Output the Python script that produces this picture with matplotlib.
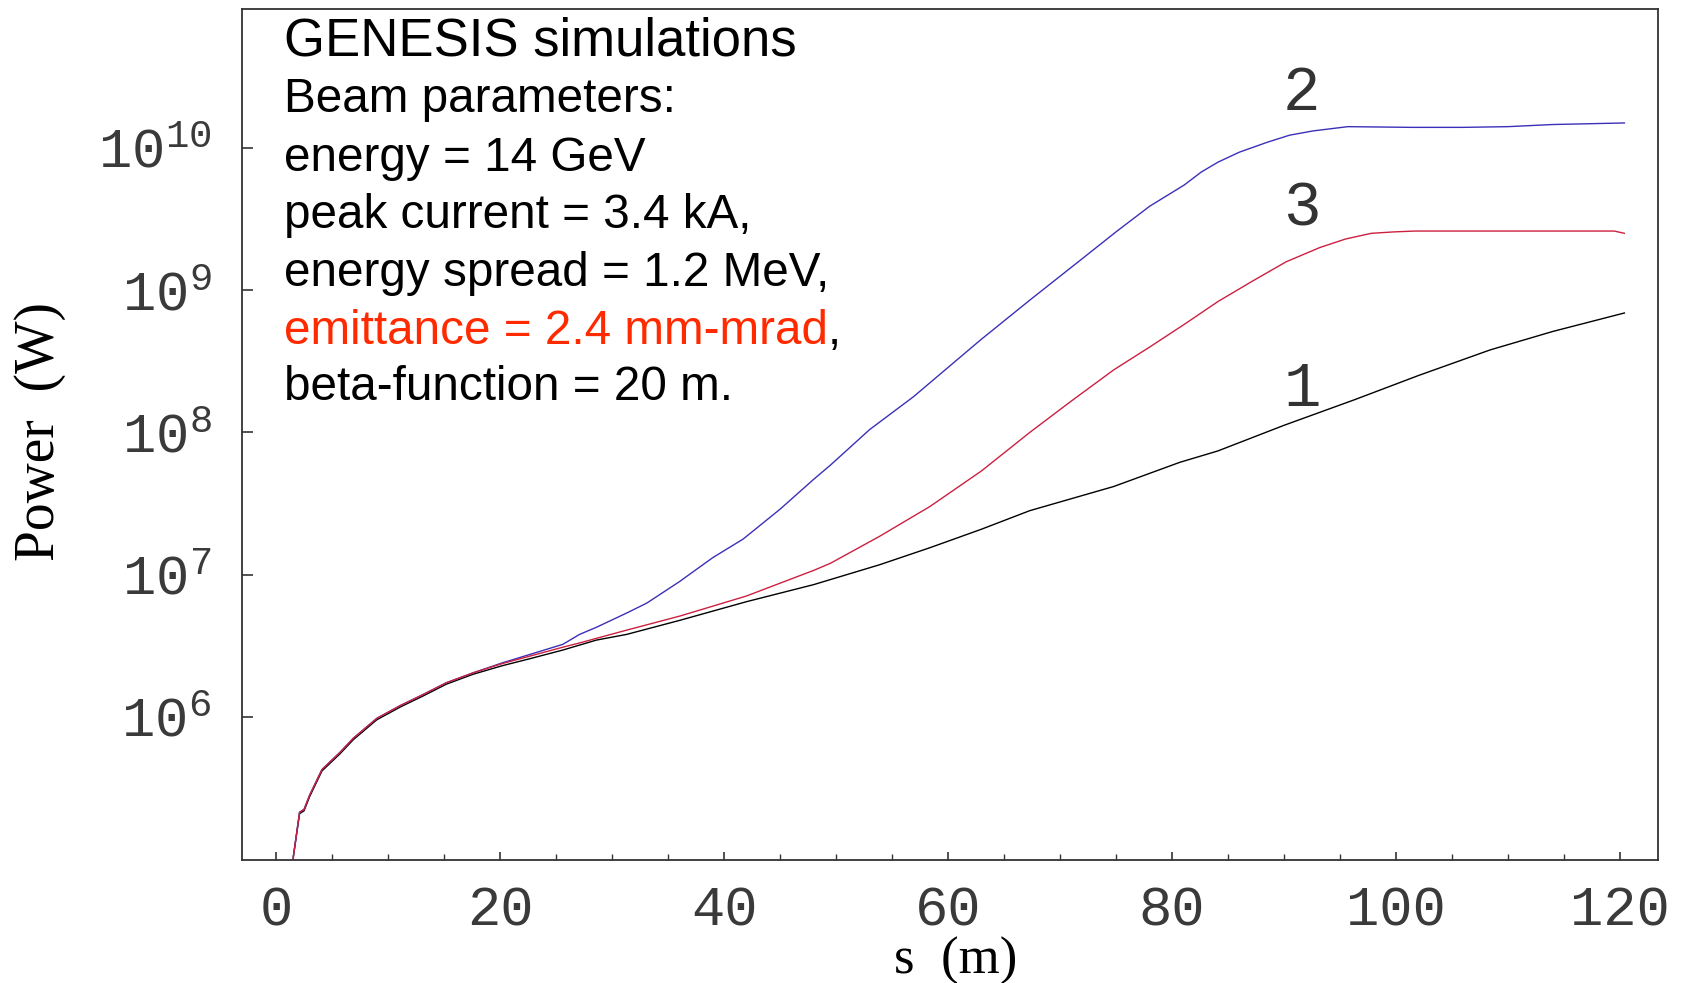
import numpy as np
import matplotlib.pyplot as plt
from matplotlib.ticker import FixedLocator, MultipleLocator, NullLocator

# ---- data: s in metres, power given as log10(P / W) ----
s_1 = [1.4, 1.55, 2.1, 2.5, 3.0, 4.1, 5.7, 6.9, 9.0, 11.1, 13.2, 15.2, 17.6,
       20.2, 22.7, 25.6, 28.6, 31.3, 36.1, 42.0, 48.0, 53.9, 58.4, 63.0,
       67.3, 74.8, 80.7, 84.1, 90.0, 96.3, 102.0, 108.4, 114.0, 120.4]
logp_1 = [4.80, 5.02, 5.32, 5.34, 5.44, 5.62, 5.74, 5.84, 5.98, 6.07, 6.15,
          6.23, 6.30, 6.36, 6.41, 6.47, 6.54, 6.58, 6.68, 6.81, 6.93, 7.07,
          7.19, 7.32, 7.45, 7.62, 7.79, 7.87, 8.05, 8.23, 8.40, 8.58, 8.71,
          8.84]

s_2 = [1.4, 1.55, 2.1, 2.5, 3.0, 4.1, 5.7, 6.9, 9.0, 11.1, 13.2, 15.2, 17.6,
       20.2, 22.7, 25.6, 27.1, 28.6, 31.3, 33.1, 36.0, 39.0, 41.7, 45.0,
       48.0, 49.5, 53.0, 56.9, 60.8, 62.9, 67.3, 71.8, 75.0, 78.0, 81.1,
       82.6, 84.1, 86.0, 88.5, 90.5, 92.6, 95.7, 101.4, 106.0, 110.0, 114.0,
       120.4]
logp_2 = [4.80, 5.02, 5.33, 5.35, 5.45, 5.63, 5.75, 5.85, 5.99, 6.08, 6.16,
          6.24, 6.31, 6.38, 6.44, 6.51, 6.58, 6.63, 6.73, 6.80, 6.95, 7.12,
          7.25, 7.46, 7.67, 7.77, 8.02, 8.25, 8.51, 8.65, 8.93, 9.21, 9.41,
          9.59, 9.74, 9.83, 9.90, 9.97, 10.04, 10.09, 10.12, 10.15, 10.145,
          10.145, 10.15, 10.165, 10.176]

s_3 = [1.4, 1.55, 2.1, 2.5, 3.0, 4.1, 5.7, 6.9, 9.0, 11.1, 13.2, 15.2, 17.6,
       20.2, 25.6, 27.1, 31.3, 36.1, 42.0, 48.0, 49.5, 53.9, 58.4, 63.0,
       67.3, 71.0, 74.8, 78.0, 81.1, 84.1, 87.1, 90.2, 93.2, 95.5, 97.8,
       99.8, 101.7, 110.0, 119.5, 120.4]
logp_3 = [4.80, 5.02, 5.33, 5.35, 5.45, 5.63, 5.75, 5.85, 5.99, 6.08, 6.16,
          6.24, 6.31, 6.375, 6.49, 6.52, 6.61, 6.71, 6.85, 7.03, 7.08, 7.27,
          7.48, 7.73, 8.00, 8.22, 8.44, 8.60, 8.76, 8.92, 9.06, 9.20, 9.30,
          9.36, 9.40, 9.41, 9.416, 9.416, 9.416, 9.40]

curve_labels = ["1", "2", "3"]
label_s = [91.6, 91.6, 91.6]
label_logp = [8.30, 10.38, 9.57]

x_ticks = [0, 20, 40, 60, 80, 100, 120]
y_ticks = [1e6, 1e7, 1e8, 1e9, 1e10]

info_lines = [
    "Beam parameters:",
    "energy = 14 GeV",
    "peak current = 3.4 kA,",
    "energy spread = 1.2 MeV,",
    "emittance = 2.4 mm-mrad",
    "beta-function = 20 m.",
]

# ---- figure ----
W, H = 1683, 983
fig = plt.figure(figsize=(W / 100, H / 100), dpi=100)
ax = fig.add_axes([242 / W, 1 - 860 / H, (1658 - 242) / W, (860 - 8.6) / H])

ax.plot(s_1, np.power(10.0, logp_1), color="black", lw=1.0)
ax.plot(s_2, np.power(10.0, logp_2), color="#3b30b8", lw=1.0)
ax.plot(s_3, np.power(10.0, logp_3), color="#cc2040", lw=1.0)

ax.set_yscale("log")
ax.set_xlim(-3.04, 123.4)
ax.set_ylim(10 ** 4.994, 10 ** 10.98)

ax.xaxis.set_major_locator(FixedLocator(x_ticks))
ax.xaxis.set_minor_locator(MultipleLocator(5))
ax.yaxis.set_major_locator(FixedLocator(y_ticks))
ax.yaxis.set_minor_locator(NullLocator())

tick_col = "#3a3a3a"
ax.tick_params(axis="x", which="major", direction="in", length=6, width=1.2,
               pad=18, labelsize=40, color="#333333", labelcolor=tick_col,
               top=False)
ax.tick_params(axis="x", which="minor", direction="in", length=4, width=1.0,
               color="#333333", top=False)
ax.tick_params(axis="y", which="major", direction="in", length=8, width=1.2,
               pad=22, labelsize=40, color="#333333", labelcolor=tick_col,
               right=False)
for lab in ax.get_xticklabels() + ax.get_yticklabels():
    lab.set_fontfamily("Liberation Mono")

for sp in ax.spines.values():
    sp.set_linewidth(1.3)
    sp.set_color("#333333")

# curve numbers
for txt, sx, ly in zip(curve_labels, label_s, label_logp):
    ax.text(sx, 10 ** ly, txt, ha="center", va="center", fontsize=45,
            family="Liberation Mono", color="#333333")

# axis labels
fig.text(40 / W, 1 - 432 / H, "Power  (W)", rotation=90, ha="center",
         va="center", fontsize=40, family="Liberation Serif")
fig.text(956 / W, 1 - 973.5 / H, "s  (m)", ha="center", va="baseline",
         fontsize=38, family="Liberation Serif")

# annotation block
x0 = 284 / W
fig.text(x0, 1 - 55.5 / H, "GENESIS simulations", fontsize=38,
         family="Liberation Sans", va="baseline")
baselines = [112.5, 171, 228.5, 286, 343.5, 400.5]
red_txt = None
for line, b in zip(info_lines, baselines):
    color = "#ff2a00" if line.startswith("emittance") else "black"
    t = fig.text(x0, 1 - b / H, line, fontsize=34.3, family="Liberation Sans",
                 va="baseline", color=color)
    if line.startswith("emittance"):
        red_txt = t

# black comma right after the red emittance text
fig.canvas.draw()
bb = red_txt.get_window_extent()
fig.text(bb.x1 / W, 1 - 343.5 / H, ",", fontsize=34.3,
         family="Liberation Sans", va="baseline", color="black")

fig.savefig("out.png", dpi=100)
